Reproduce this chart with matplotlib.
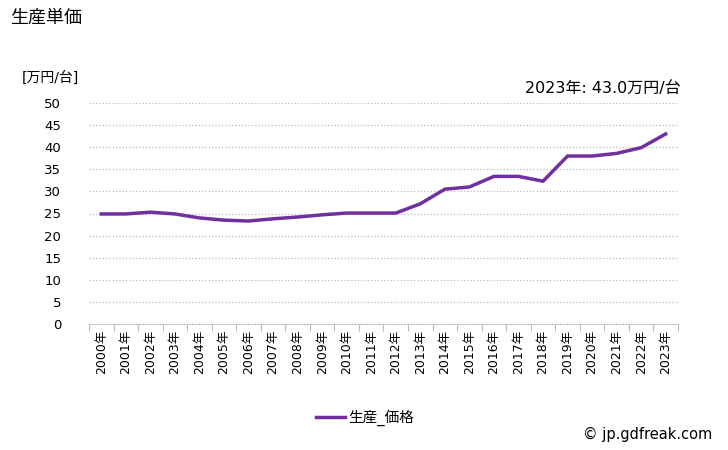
import matplotlib
matplotlib.use('Agg')
import matplotlib.pyplot as plt
from matplotlib.lines import Line2D

plt.rcParams['font.family'] = ['DejaVu Sans', 'Noto Sans CJK JP']

# データ
years = [str(y) + '年' for y in range(2000, 2024)]
price = [24.9, 24.9, 25.3, 24.9, 24.0, 23.5, 23.3, 23.8, 24.2, 24.7, 25.1, 25.1,
         25.1, 27.2, 30.5, 31.0, 33.4, 33.4, 32.3, 38.0, 38.0, 38.6, 39.9, 43.0]
yticks = list(range(0, 51, 5))

line_color = '#7030A0'

fig = plt.figure(figsize=(7.28, 4.5), dpi=100)
ax = fig.add_axes([89 / 728, 1 - 324 / 450, 589 / 728, 221 / 450])

x = list(range(len(years)))
ax.plot(x, price, color=line_color, linewidth=2.5, solid_joinstyle='round')

ax.set_xlim(-0.5, len(years) - 0.5)
ax.set_ylim(0, 50)
ax.set_yticks(yticks)
ax.tick_params(axis='y', length=0, labelsize=9.5, pad=20)

# x軸: 区切り位置に目盛り
ax.set_xticks([i - 0.5 for i in range(len(years) + 1)])
ax.set_xticklabels([])
ax.set_xticks(x, minor=True)
ax.set_xticklabels(years, minor=True, rotation=90, fontsize=9)
ax.tick_params(axis='x', which='major', length=5, color='#bbbbbb', direction='out')
ax.tick_params(axis='x', which='minor', length=0, pad=4)

ax.grid(axis='y', color='#bbbbbb', linestyle=':', linewidth=0.9)
ax.set_axisbelow(True)
for s in ['left', 'right', 'top']:
    ax.spines[s].set_visible(False)
ax.spines['bottom'].set_color('#bbbbbb')
ax.spines['bottom'].set_linestyle(':')

fig.text(10 / 728, 1 - 18 / 450, '生産単価', fontsize=13, va='center', ha='left')
fig.text(22 / 728, 1 - 78 / 450, '[万円/台]', fontsize=10, va='center', ha='left')
fig.text(681 / 728, 1 - 89 / 450, '2023年: 43.0万円/台', fontsize=11.5, va='center', ha='right')

handle = Line2D([], [], color=line_color, linewidth=2.5)
fig.legend([handle], ['生産_価格'], loc='center', bbox_to_anchor=(365 / 728, 1 - 418 / 450),
           frameon=False, fontsize=10.5, handlelength=2.0, handletextpad=0.2)

fig.text(712 / 728, 1 - 434 / 450, '© jp.gdfreak.com', fontsize=10.5, va='center', ha='right')

fig.savefig('out.png', dpi=100)
